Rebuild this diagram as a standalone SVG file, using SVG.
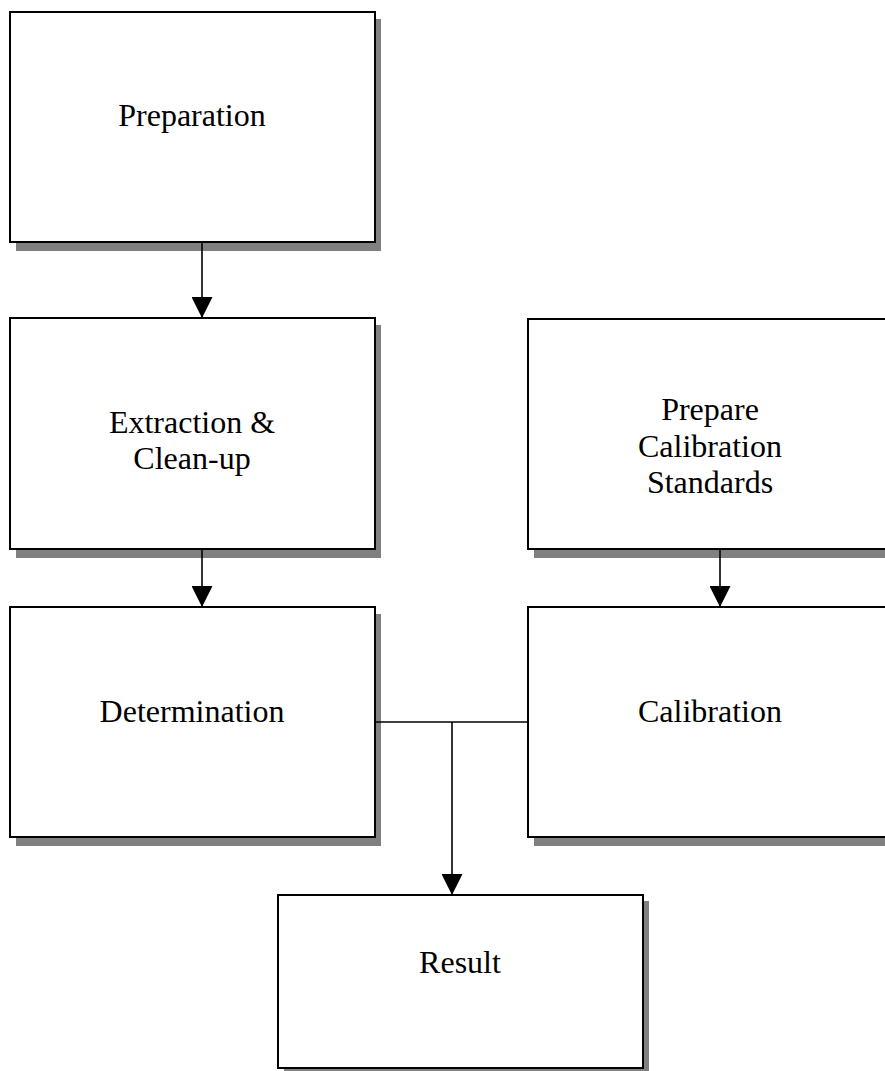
<svg xmlns="http://www.w3.org/2000/svg" width="885" height="1071" viewBox="0 0 885 1071">
<style>
.shadow{fill:#808080;stroke:none}
.box{fill:#fff;stroke:#000;stroke-width:2}
.lbl{font-family:"Liberation Serif","Times New Roman",serif;font-size:32px;fill:#000;text-anchor:middle}
.conn{fill:none;stroke:#000;stroke-width:1.6}
</style>
<defs>
<marker id="arr" markerUnits="userSpaceOnUse" markerWidth="21" markerHeight="21" viewBox="0 0 20 20" refX="20" refY="10" orient="auto">
<path d="M0,0 L20,10 L0,20 Z" fill="#000"/>
</marker>
</defs>
<rect width="885" height="1071" fill="#fff"/>
<g id="preparation">
<rect class="shadow" x="16" y="19" width="365" height="232"/>
<rect class="box" x="10" y="12" width="365" height="230"/>
<text class="lbl" x="192" y="126">Preparation</text>
</g>
<g id="extraction">
<rect class="shadow" x="16" y="325" width="365" height="233"/>
<rect class="box" x="10" y="318" width="365" height="231"/>
<text class="lbl" x="192" y="433">Extraction &amp;</text>
<text class="lbl" x="192" y="469">Clean-up</text>
</g>
<g id="determination">
<rect class="shadow" x="16" y="614" width="365" height="232"/>
<rect class="box" x="10" y="607" width="365" height="230"/>
<text class="lbl" x="192" y="722">Determination</text>
</g>
<g id="prepare-standards">
<rect class="shadow" x="534" y="326" width="365" height="232"/>
<rect class="box" x="528" y="319" width="365" height="230"/>
<text class="lbl" x="710" y="420">Prepare</text>
<text class="lbl" x="710" y="457">Calibration</text>
<text class="lbl" x="710" y="493">Standards</text>
</g>
<g id="calibration">
<rect class="shadow" x="534" y="614" width="365" height="232"/>
<rect class="box" x="528" y="607" width="365" height="230"/>
<text class="lbl" x="710" y="722">Calibration</text>
</g>
<g id="result">
<rect class="shadow" x="284" y="901" width="365" height="174"/>
<rect class="box" x="278" y="895" width="365" height="173"/>
<text class="lbl" x="460" y="973">Result</text>
</g>
<g id="connectors">
<line class="conn" x1="202" y1="243" x2="202" y2="318" marker-end="url(#arr)"/>
<line class="conn" x1="202" y1="550" x2="202" y2="607" marker-end="url(#arr)"/>
<line class="conn" x1="720" y1="550" x2="720" y2="607" marker-end="url(#arr)"/>
<line class="conn" x1="376" y1="722" x2="527" y2="722"/>
<line class="conn" x1="452" y1="722" x2="452" y2="895" marker-end="url(#arr)"/>
</g>
</svg>
